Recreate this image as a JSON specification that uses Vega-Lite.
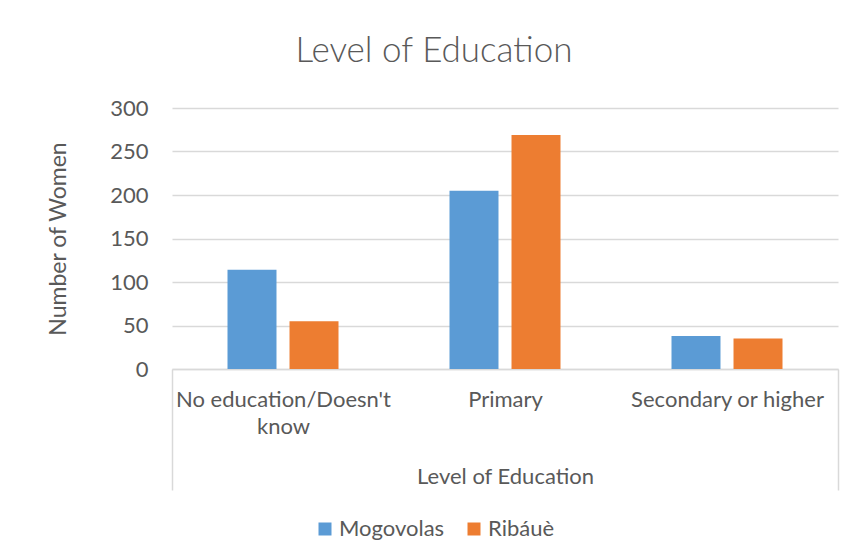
{
  "$schema": "https://vega.github.io/schema/vega-lite/v6.json",
  "autosize": "none",
  "width": 666,
  "height": 261,
  "padding": {"left": 172, "top": 108, "right": 14, "bottom": 189},
  "background": "white",
  "title": {
    "text": "Level of Education",
    "font": "Lato",
    "fontSize": 35,
    "fontWeight": 300,
    "color": "#595959",
    "anchor": "middle",
    "dx": -71,
    "baseline": "alphabetic",
    "offset": 0
  },
  "data": {
    "values": [
      {"level": "No education/Doesn't know", "site": "Mogovolas", "women": 114},
      {"level": "No education/Doesn't know", "site": "Ribáuè", "women": 55},
      {"level": "Primary", "site": "Mogovolas", "women": 205},
      {"level": "Primary", "site": "Ribáuè", "women": 269},
      {"level": "Secondary or higher", "site": "Mogovolas", "women": 38},
      {"level": "Secondary or higher", "site": "Ribáuè", "women": 35}
    ]
  },
  "mark": {"type": "bar"},
  "encoding": {
    "x": {
      "field": "level",
      "type": "nominal",
      "sort": null,
      "title": "Level of Education",
      "scale": {"paddingInner": 0, "paddingOuter": 0},
      "axis": {
        "labelAngle": 0,
        "labelFont": "Lato",
        "labelFontSize": 22,
        "labelColor": "#595959",
        "labelLineHeight": 27,
        "labelBaseline": "alphabetic",
        "labelPadding": -84,
        "labelLimit": 0,
        "labelExpr": "datum.label == \"No education/Doesn't know\" ? [\"No education/Doesn't\", \"know\"] : datum.label",
        "domainColor": "#D9D9D9",
        "domainWidth": 1.5,
        "tickBand": "extent",
        "tickSize": 121,
        "tickWidth": 1.5,
        "tickColor": {"condition": {"test": "datum.index >= 0 && datum.index < 0.99", "value": "transparent"}, "value": "#D9D9D9"},
        "titleFont": "Lato",
        "titleFontSize": 22,
        "titleFontWeight": "normal",
        "titleColor": "#595959",
        "titleBaseline": "alphabetic",
        "titleY": 114
      }
    },
    "xOffset": {
      "field": "site",
      "type": "nominal",
      "sort": ["Mogovolas", "Ribáuè"],
      "scale": {"paddingInner": 0.21, "paddingOuter": 0.895}
    },
    "y": {
      "field": "women",
      "type": "quantitative",
      "title": "Number of Women",
      "scale": {"domain": [0, 300], "nice": false},
      "axis": {
        "values": [0, 50, 100, 150, 200, 250, 300],
        "domain": false,
        "ticks": false,
        "gridColor": "#D9D9D9",
        "gridWidth": 1.5,
        "labelFont": "Lato",
        "labelFontSize": 22,
        "labelColor": "#595959",
        "labelPadding": 24,
        "titleFont": "Lato",
        "titleFontSize": 23,
        "titleFontWeight": "normal",
        "titleColor": "#595959",
        "titlePadding": 39
      }
    },
    "color": {
      "field": "site",
      "type": "nominal",
      "sort": ["Mogovolas", "Ribáuè"],
      "scale": {"domain": ["Mogovolas", "Ribáuè"], "range": ["#5B9BD5", "#ED7D31"]},
      "legend": {
        "title": null,
        "orient": "none",
        "direction": "horizontal",
        "legendX": 142,
        "legendY": 410,
        "padding": 0,
        "symbolType": "square",
        "symbolSize": 169,
        "symbolStrokeWidth": 0,
        "labelFont": "Lato",
        "labelFontSize": 22,
        "labelColor": "#595959",
        "labelOffset": 3,
        "columnPadding": 18
      }
    }
  },
  "config": {
    "view": {"stroke": null}
  }
}
